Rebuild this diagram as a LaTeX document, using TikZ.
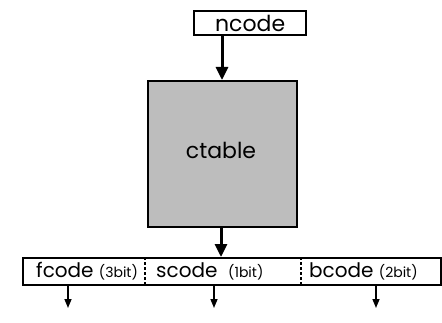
\documentclass[tikz,border=0pt]{standalone}
\usepackage{fontspec}
\setmainfont{Poppins}
\usetikzlibrary{arrows.meta}
\begin{document}
\begin{tikzpicture}[x=1pt,y=1pt,
  box/.style={draw=black,line width=2.3pt,inner sep=0pt,anchor=north west},
  big/.style={font=\fontsize{22}{22}\selectfont},
  thickarrow/.style={line width=3pt,-{Triangle[length=13pt,width=12pt]}},
  thinarrow/.style={line width=1.5pt,-{Triangle[length=9pt,width=7pt]}},
  sep/.style={line width=1.3pt,dash pattern=on 3pt off 2pt}]
\useasboundingbox (0,0) rectangle (442,322);
% top field
\node[box,minimum width=112pt,minimum height=24pt] (ncode) at (193,312) {};
\node[big,anchor=center] (ncodetxt) at (ncode.center) {ncode};
% lookup table
\node[box,fill=black!26,minimum width=149pt,minimum height=146pt] (ctable) at (147,242) {};
\node[big,anchor=center] (ctabletxt) at (221,172) {ctable};
% output word
\node[box,minimum width=418pt,minimum height=27pt] (word) at (22,65) {};
\coordinate (s1top) at (145,65);
\coordinate (s1bot) at (145,38);
\coordinate (s2top) at (301,65);
\coordinate (s2bot) at (301,38);
\draw[sep] (s1top) -- (s1bot);
\draw[sep] (s2top) -- (s2bot);
\node[anchor=base west,inner sep=0pt] (f) at (36,45) {\fontsize{20}{20}\selectfont fcode\ \fontsize{14}{14}\selectfont(3bit)};
\node[anchor=base west,inner sep=0pt] (s) at (156,45) {\fontsize{20}{20}\selectfont scode\ \ \fontsize{14}{14}\selectfont(1bit)};
\node[anchor=base west,inner sep=0pt] (b) at (309,45) {\fontsize{20}{20}\selectfont bcode\ \fontsize{14}{14}\selectfont(2bit)};
% arrows
\coordinate (a1) at (222,0);
\draw[thickarrow] (a1 |- ncode.south) -- (a1 |- ctable.north);
\coordinate (a2) at (221,0);
\draw[thickarrow] (a2 |- ctable.south) -- (a2 |- word.north);
\coordinate (fo) at (68,14);
\coordinate (so) at (214,14);
\coordinate (bo) at (376,14);
\draw[thinarrow] (fo |- word.south) -- (fo);
\draw[thinarrow] (so |- word.south) -- (so);
\draw[thinarrow] (bo |- word.south) -- (bo);
\end{tikzpicture}
\end{document}
